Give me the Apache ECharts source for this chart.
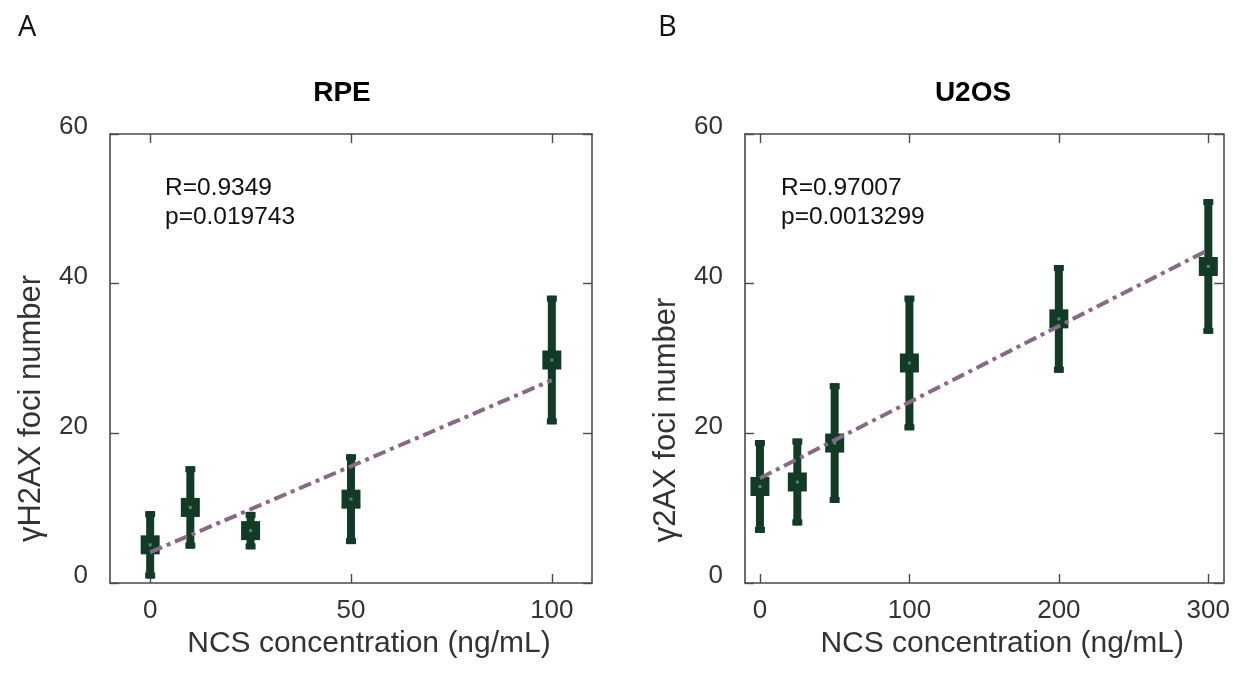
<!DOCTYPE html>
<html>
<head>
<meta charset="utf-8">
<script src="https://cdn.jsdelivr.net/npm/echarts@6/dist/echarts.min.js"></script>
<style>html,body{margin:0;padding:0;background:#fff;}#c{width:1233px;height:683px;}</style>
</head>
<body>
<div id="c"></div>
<script>
// ---- Data ----
const panelTitles = ['RPE', 'U2OS'];
const panelLetters = ['A', 'B'];
const yTitles = ['γH2AX foci number', 'γ2AX foci number'];
const xTitle = 'NCS concentration (ng/mL)';
const statsA = ['R=0.9349', 'p=0.019743'];
const statsB = ['R=0.97007', 'p=0.0013299'];

const xTicksA = [0, 50, 100];
const xTicksB = [0, 100, 200, 300];
const yTicks = [0, 20, 40, 60];

const doseA = [0, 10, 25, 50, 100];
const meanA = [5.1, 10.1, 7.0, 11.2, 29.8];
const errA  = [4.5, 5.5, 2.5, 6.0, 8.6];
const trendA = [[0, 4.1], [100, 27.1]];

const doseB = [0, 25, 50, 100, 200, 300];
const meanB = [12.9, 13.5, 18.7, 29.4, 35.3, 42.3];
const errB  = [6.2, 5.8, 8.0, 9.0, 7.2, 9.0];
const trendB = [[0, 14.0], [300, 44.5]];

// ---- Styles ----
const GREEN = '#133a27';
const DOT = '#4d8c6c';
const TREND = '#876a84';
const FRAME = '#4a4a4a';
const LABEL = '#333333';

const chart = echarts.init(document.getElementById('c'), null, {renderer: 'canvas'});

function errRender(params, api) {
  const x = api.value(0), m = api.value(1), e = api.value(2);
  const pT = api.coord([x, m + e]);
  const pB = api.coord([x, m - e]);
  const pC = api.coord([x, m]);
  const st = {fill: GREEN};
  return {
    type: 'group',
    children: [
      {type: 'rect', shape: {x: pC[0] - 4, y: pT[1], width: 8, height: pB[1] - pT[1]}, style: st},
      {type: 'rect', shape: {x: pC[0] - 5, y: pT[1], width: 10, height: 6}, style: st},
      {type: 'rect', shape: {x: pC[0] - 5, y: pB[1] - 6, width: 10, height: 6}, style: st},
      {type: 'rect', shape: {x: pC[0] - 9.5, y: pC[1] - 9.5, width: 19, height: 19}, style: st},
      {type: 'rect', shape: {x: pC[0] - 1.5, y: pC[1] - 1.5, width: 3, height: 3}, style: {fill: DOT}}
    ]
  };
}

function xAxes(gi, min, max, ticks, name, namePad) {
  const common = {
    type: 'value', gridIndex: gi, min: min, max: max,
    axisLine: {show: true, onZero: false, lineStyle: {color: FRAME, width: 1.6}},
    axisTick: {show: true, inside: true, length: 9, customValues: ticks, lineStyle: {color: FRAME, width: 1.4}},
    splitLine: {show: false}
  };
  return [
    Object.assign({}, common, {
      position: 'bottom',
      axisLabel: {show: true, customValues: ticks, margin: 15, fontSize: 26, color: LABEL, fontFamily: 'Liberation Sans'},
      name: name, nameLocation: 'middle', nameGap: 40,
      nameTextStyle: {fontSize: 30, color: LABEL, fontFamily: 'Liberation Sans', padding: namePad}
    }),
    Object.assign({}, common, {position: 'top', axisLabel: {show: false}})
  ];
}

function yAxes(gi, name, namePad) {
  const common = {
    type: 'value', gridIndex: gi, min: 0, max: 60, interval: 20,
    axisLine: {show: true, onZero: false, lineStyle: {color: FRAME, width: 1.6}},
    axisTick: {show: true, inside: true, length: 9, lineStyle: {color: FRAME, width: 1.4}},
    splitLine: {show: false}
  };
  return [
    Object.assign({}, common, {
      position: 'left',
      axisLabel: {show: true, margin: 22, fontSize: 26, color: LABEL, fontFamily: 'Liberation Sans',
        verticalAlign: 'bottom', lineHeight: 14, customValues: yTicks},
      name: name, nameLocation: 'middle', nameGap: 63, nameRotate: 90,
      nameTextStyle: {fontSize: 31, color: LABEL, fontFamily: 'Liberation Sans', padding: namePad}
    }),
    Object.assign({}, common, {position: 'right', axisLabel: {show: false}})
  ];
}

const xa = xAxes(0, -10, 110, xTicksA, xTitle, [0, 0, 0, 36]).concat(xAxes(1, -10, 310, xTicksB, xTitle, [0, 0, 0, 36]));
const ya = yAxes(0, yTitles[0], [0, 100, 0, 0]).concat(yAxes(1, yTitles[1], [0, 123, 0, 0]));

function txt(x, y, s, size, weight, family, color, align) {
  return {type: 'text', x: x, y: y, z: 100,
    style: {text: s, fontSize: size, fontWeight: weight, fontFamily: family, fill: color,
      align: align, verticalAlign: 'middle'}};
}

const option = {
  animation: false,
  backgroundColor: '#ffffff',
  grid: [
    {left: 110, right: 1233 - 592, top: 134, bottom: 683 - 583, containLabel: false},
    {left: 745, right: 1233 - 1229, top: 134, bottom: 683 - 583, containLabel: false}
  ],
  xAxis: xa,
  yAxis: ya,
  series: [
    {type: 'custom', xAxisIndex: 0, yAxisIndex: 0, renderItem: errRender, clip: false, z: 2,
      encode: {x: 0, y: 1}, data: doseA.map((d, i) => [d, meanA[i], errA[i]])},
    {type: 'line', xAxisIndex: 0, yAxisIndex: 0, data: trendA, symbol: 'none', z: 5,
      lineStyle: {color: TREND, width: 4, type: [13, 5, 4, 5]}},
    {type: 'custom', xAxisIndex: 2, yAxisIndex: 2, renderItem: errRender, clip: false, z: 2,
      encode: {x: 0, y: 1}, data: doseB.map((d, i) => [d, meanB[i], errB[i]])},
    {type: 'line', xAxisIndex: 2, yAxisIndex: 2, data: trendB, symbol: 'none', z: 5,
      lineStyle: {color: TREND, width: 4, type: [13, 5, 4, 5]}}
  ],
  graphic: [
    txt(18, 28, panelLetters[0], 29, 'normal', 'Open Sans', '#111', 'left'),
    txt(658, 28, panelLetters[1], 29, 'normal', 'Open Sans', '#111', 'left'),
    txt(342, 93, panelTitles[0], 28, 'bold', 'Liberation Sans', '#000', 'center'),
    txt(973, 93, panelTitles[1], 28, 'bold', 'Liberation Sans', '#000', 'center'),
    txt(165, 188, statsA[0], 24.5, 'normal', 'Liberation Sans', '#111', 'left'),
    txt(165, 217, statsA[1], 24.5, 'normal', 'Liberation Sans', '#111', 'left'),
    txt(781, 188, statsB[0], 24.5, 'normal', 'Liberation Sans', '#111', 'left'),
    txt(781, 217, statsB[1], 24.5, 'normal', 'Liberation Sans', '#111', 'left')
  ]
};
chart.setOption(option);
</script>
</body>
</html>
